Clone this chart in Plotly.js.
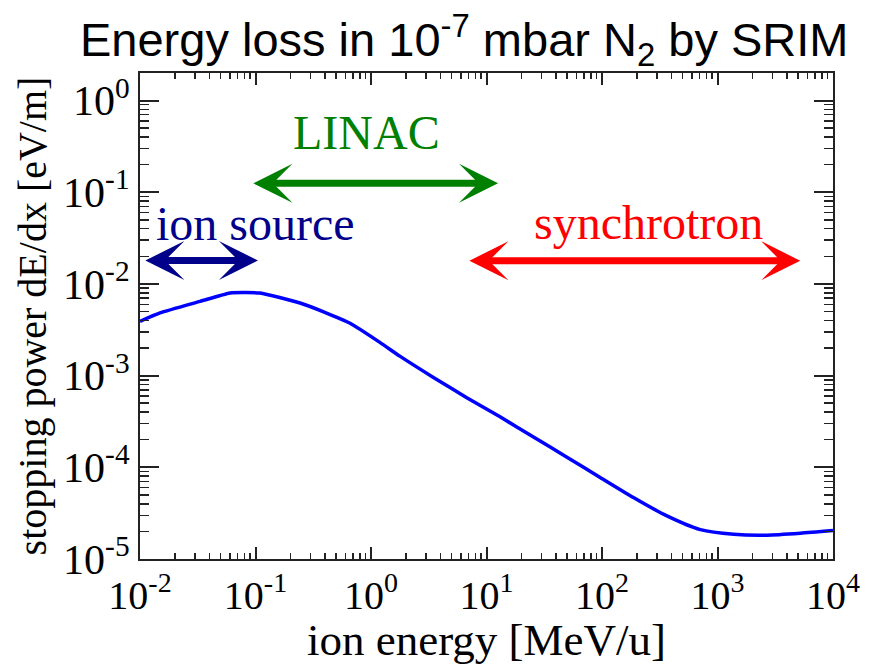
<!DOCTYPE html>
<html>
<head>
<meta charset="utf-8">
<script src="https://cdn.plot.ly/plotly-3.0.1.min.js"></script>
<style>
  html, body { margin: 0; padding: 0; background: #ffffff; }
  #chart { width: 871px; height: 665px; }
</style>
</head>
<body>
<div id="chart"></div>
<script>
// SRIM stopping power of ions in residual N2 gas at 1e-7 mbar
const energy = [0.01, 0.0149, 0.0331, 0.0603, 0.08, 0.109, 0.243, 0.398, 0.659, 1.20, 1.79,
  3.47, 6.75, 13.1, 25.5, 49.7, 96.4, 187, 365, 710, 1380, 2680, 5210, 10000];          // MeV/u
const stoppingPower = [3.90e-3, 4.82e-3, 6.44e-3, 7.96e-3, 8.05e-3, 7.96e-3, 6.19e-3, 4.90e-3, 3.72e-3, 2.29e-3, 1.62e-3,
  9.55e-4, 5.75e-4, 3.55e-4, 2.14e-4, 1.29e-4, 7.76e-5, 4.68e-5, 2.95e-5, 2.09e-5,
  1.86e-5, 1.82e-5, 1.91e-5, 2.04e-5];                                                  // eV/m

// decade ticks
const xTickPowers = [-2, -1, 0, 1, 2, 3, 4];
const yTickPowers = [-5, -4, -3, -2, -1, 0];

// accelerator stages and their energy ranges
const stageNames = ['ion source', 'LINAC', 'synchrotron'];
const stageFrom = [0.0108, 0.093, 6.9];       // MeV/u
const stageTo = [0.105, 12.6, 5200];          // MeV/u
const stageLevel = [0.018, 0.125, 0.0179];    // eV/m, height of the range arrow
const stageLabelX = [0.1, 0.916, 254];        // MeV/u, label centre
const stageLabelY = [0.0224, 0.217, 0.0226];  // eV/m, label bottom
const stageColors = ['#00008b', '#008000', '#ff0000'];

const lg = Math.log10;
const serif = 'Liberation Serif, Times New Roman, serif';

const powerLabel = p => '10<sup>' + (p < 0 ? '-' + (-p) : p) + '</sup>';

const curve = {
  x: energy,
  y: stoppingPower,
  type: 'scatter',
  mode: 'lines',
  line: { color: '#0000ff', width: 3.5, shape: 'spline', smoothing: 0.6 },
  hoverinfo: 'x+y',
  showlegend: false
};

const annotations = [];
stageNames.forEach((name, i) => {
  annotations.push({
    xref: 'x', yref: 'y', axref: 'x', ayref: 'y',
    x: lg(stageTo[i]), y: lg(stageLevel[i]),
    ax: lg(stageFrom[i]), ay: lg(stageLevel[i]),
    text: '', showarrow: true,
    arrowside: 'end+start',
    arrowhead: 3, startarrowhead: 3,
    arrowsize: 0.93, startarrowsize: 0.93,
    arrowwidth: 7, arrowcolor: stageColors[i],
    standoff: 0, startstandoff: 0
  });
  annotations.push({
    xref: 'x', yref: 'y',
    x: lg(stageLabelX[i]), y: lg(stageLabelY[i]),
    xanchor: 'center', yanchor: 'bottom',
    text: name, showarrow: false,
    font: { family: serif, size: 48, color: stageColors[i] }
  });
});

const axisCommon = {
  type: 'log',
  showgrid: false,
  zeroline: false,
  showline: true,
  linecolor: '#222222',
  linewidth: 2,
  mirror: 'allticks',
  ticks: 'inside',
  tickwidth: 2,
  tickcolor: '#222222',
  tickmode: 'array',
  tickfont: { family: serif, size: 42, color: '#000000' },
  minor: { dtick: 'D1', ticks: 'inside', tickwidth: 1.5, tickcolor: '#222222', showgrid: false }
};

const layout = {
  width: 871,
  height: 665,
  paper_bgcolor: '#ffffff',
  plot_bgcolor: '#ffffff',
  margin: { l: 140, r: 38, t: 73, b: 106 },
  title: {
    text: 'Energy loss in 10<sup>-7</sup> mbar N<sub>2</sub> by SRIM',
    font: { family: 'Liberation Sans, Arial, sans-serif', size: 47, color: '#000000' },
    xref: 'container', x: 0.533, xanchor: 'center',
    yref: 'container', y: 0.94, yanchor: 'middle'
  },
  xaxis: Object.assign({}, axisCommon, {
    range: [-2, 4],
    tickvals: xTickPowers.map(p => Math.pow(10, p)),
    ticktext: xTickPowers.map(powerLabel),
    tickfont: { family: serif, size: 40, color: '#000000' },
    ticklen: 12,
    minor: Object.assign({}, axisCommon.minor, { ticklen: 6 }),
    title: { text: 'ion energy [MeV/u]', font: { family: serif, size: 45, color: '#000000' }, standoff: 11 }
  }),
  yaxis: Object.assign({}, axisCommon, {
    range: [-5, 0.30],
    tickvals: yTickPowers.map(p => Math.pow(10, p)),
    ticktext: yTickPowers.map(powerLabel),
    ticklen: 19,
    minor: Object.assign({}, axisCommon.minor, { ticklen: 9 }),
    title: { text: 'stopping power dE/dx [eV/m]', font: { family: serif, size: 40, color: '#000000' }, standoff: 4 }
  }),
  annotations: annotations
};

Plotly.newPlot('chart', [curve], layout, { displayModeBar: false, staticPlot: true });
</script>
</body>
</html>
